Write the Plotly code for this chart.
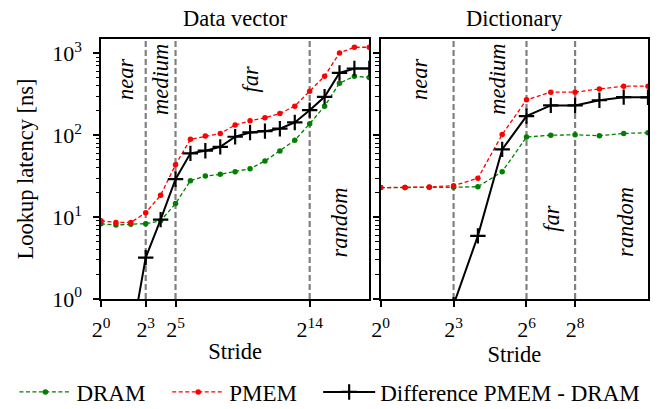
import plotly.graph_objects as go

# ---------------- data ----------------
# Data vector (x = log2 of stride, 0..18)
dv_x = list(range(0, 19))
dv_dram = [8.3, 8.0, 8.2, 8.3, 9.0, 14.6, 27.8, 31.7, 33.3, 35.8, 39.0, 48.3, 64.0, 86.5, 138, 226, 431, 525, 506]
dv_pmem = [9.0, 8.6, 8.6, 11.3, 18.5, 43.6, 89, 97.5, 105, 133, 150, 163, 184, 226, 344, 525, 1009, 1183, 1183]
dv_diff = [0.7, 0.6, 0.3, 3.2, 9.3, 29, 60, 64.6, 72, 95.6, 108, 112, 120, 143, 202, 294, 575, 651, 651]
dv_bounds = [3, 5, 14]
dv_ticks = [0, 3, 5, 14]

# Dictionary (x = log2 of stride, 0..11)
dc_x = list(range(0, 12))
dc_dram = [22.9, 22.9, 23.1, 23.1, 23.5, 35.8, 94.8, 100, 101, 98.4, 105, 107]
dc_pmem = [22.9, 22.9, 23.3, 24.2, 29.8, 102, 270, 335, 335, 367, 396, 396]
dc_diff = [None, None, None, 0.85, 5.9, 67, 171, 231, 231, 267, 291, 290]
dc_bounds = [3, 6, 8]
dc_ticks = [0, 3, 6, 8]

# region labels: (text, x, log10 y)
dv_labels = [("near", 1.65, 2.68), ("medium", 4.0, 2.68), ("far", 10.0, 2.68), ("random", 16.0, 0.94)]
dc_labels = [("near", 1.6, 2.68), ("medium", 4.8, 2.68), ("far", 7.05, 0.98), ("random", 10.05, 0.94)]

FONT = "Liberation Serif"
FS = 22.5
LFS = 23
TFS = 22
GREEN = "#008000"
RED = "#ff0000"

fig = go.Figure()

def add_series(x, dram, pmem, diff, xa, ya, show):
    fig.add_trace(go.Scatter(x=x, y=dram, mode="lines+markers", name="DRAM",
                             line=dict(color=GREEN, width=1.3, dash="4px,2.5px"),
                             marker=dict(color=GREEN, size=5.5, symbol="circle"),
                             xaxis=xa, yaxis=ya, showlegend=show, legend="legend"))
    fig.add_trace(go.Scatter(x=x, y=pmem, mode="lines+markers", name="PMEM",
                             line=dict(color=RED, width=1.3, dash="4px,2.5px"),
                             marker=dict(color=RED, size=5.5, symbol="circle"),
                             xaxis=xa, yaxis=ya, showlegend=show, legend="legend2"))
    fig.add_trace(go.Scatter(x=x, y=diff, mode="lines+markers", name="Difference PMEM - DRAM",
                             line=dict(color="black", width=2),
                             marker=dict(color="black", size=11, symbol="cross-thin",
                                         line=dict(color="black", width=2.2)),
                             xaxis=xa, yaxis=ya, showlegend=show, legend="legend3",
                             connectgaps=False))

add_series(dv_x, dv_dram, dv_pmem, dv_diff, "x", "y", True)
add_series(dc_x, dc_dram, dc_pmem, dc_diff, "x2", "y2", False)

shapes = []
for b in dv_bounds:
    shapes.append(dict(type="line", xref="x", yref="y domain", x0=b, x1=b, y0=0, y1=1,
                       line=dict(color="#808080", width=2.2, dash="6px,3px"), layer="below"))
for b in dc_bounds:
    shapes.append(dict(type="line", xref="x2", yref="y2 domain", x0=b, x1=b, y0=0, y1=1,
                       line=dict(color="#808080", width=2.2, dash="6px,3px"), layer="below"))

annotations = []
for t, xv, yv in dv_labels:
    annotations.append(dict(text="<i>%s</i>" % t, x=xv, y=yv, xref="x", yref="y", showarrow=False,
                            textangle=-90, font=dict(family=FONT, size=FS, color="black")))
for t, xv, yv in dc_labels:
    annotations.append(dict(text="<i>%s</i>" % t, x=xv, y=yv, xref="x2", yref="y2", showarrow=False,
                            textangle=-90, font=dict(family=FONT, size=FS, color="black")))
annotations.append(dict(text="Data vector", x=0.2452, xref="paper", xanchor="center",
                        y=1.0, yref="paper", yanchor="bottom", yshift=6, showarrow=False,
                        font=dict(family=FONT, size=FS, color="black")))
annotations.append(dict(text="Dictionary", x=0.7556, xref="paper", xanchor="center",
                        y=1.0, yref="paper", yanchor="bottom", yshift=6, showarrow=False,
                        font=dict(family=FONT, size=FS, color="black")))

minor_vals = [m * 10 ** k for k in range(0, 4) for m in range(2, 10)]
yvals = [1, 10, 100, 1000]
ytext = ["10<sup>0</sup>", "10<sup>1</sup>", "10<sup>2</sup>", "10<sup>3</sup>"]

axis_common = dict(showline=True, linecolor="black", linewidth=1.5, mirror=True,
                   ticks="outside", tickcolor="black", tickwidth=1.5, ticklen=6,
                   showgrid=False, zeroline=False,
                   tickfont=dict(family=FONT, size=TFS, color="black"))

yaxis_common = dict(axis_common, type="log", range=[0, 3.174], tickvals=yvals,
                    minor=dict(ticks="outside", ticklen=3.5, tickwidth=1, tickcolor="black",
                               tickvals=minor_vals, showgrid=False))

leg_common = dict(orientation="h", xanchor="left", y=-0.275, yanchor="top",
                  font=dict(family=FONT, size=LFS, color="black"),
                  itemwidth=52, bgcolor="rgba(0,0,0,0)")

fig.update_layout(
    width=659, height=409,
    margin=dict(l=92.7, r=18.7, t=31, b=117.7, autoexpand=False),
    plot_bgcolor="white", paper_bgcolor="white",
    font=dict(family=FONT, size=FS, color="black"),
    xaxis=dict(axis_common, domain=[0, 0.4905], range=[0, 18], tickvals=dv_ticks,
               ticktext=["2<sup>%d</sup>" % v for v in dv_ticks], ticklabelstandoff=4,
               title=dict(text="Stride", font=dict(family=FONT, size=FS), standoff=2)),
    xaxis2=dict(axis_common, domain=[0.5113, 1], range=[0, 11], tickvals=dc_ticks,
                ticktext=["2<sup>%d</sup>" % v for v in dc_ticks], ticklabelstandoff=4,
                title=dict(text="Stride", font=dict(family=FONT, size=FS), standoff=2)),
    yaxis=dict(yaxis_common, ticktext=ytext, ticklabelstandoff=7,
               title=dict(text="Lookup latency [ns]", font=dict(family=FONT, size=FS), standoff=12)),
    yaxis2=dict(yaxis_common, anchor="x2", matches="y", showticklabels=False),
    shapes=shapes,
    annotations=annotations,
    showlegend=True,
    legend=dict(leg_common, x=-0.1583),
    legend2=dict(leg_common, x=0.1211),
    legend3=dict(leg_common, x=0.3970),
)

fig.write_html("out.html")
